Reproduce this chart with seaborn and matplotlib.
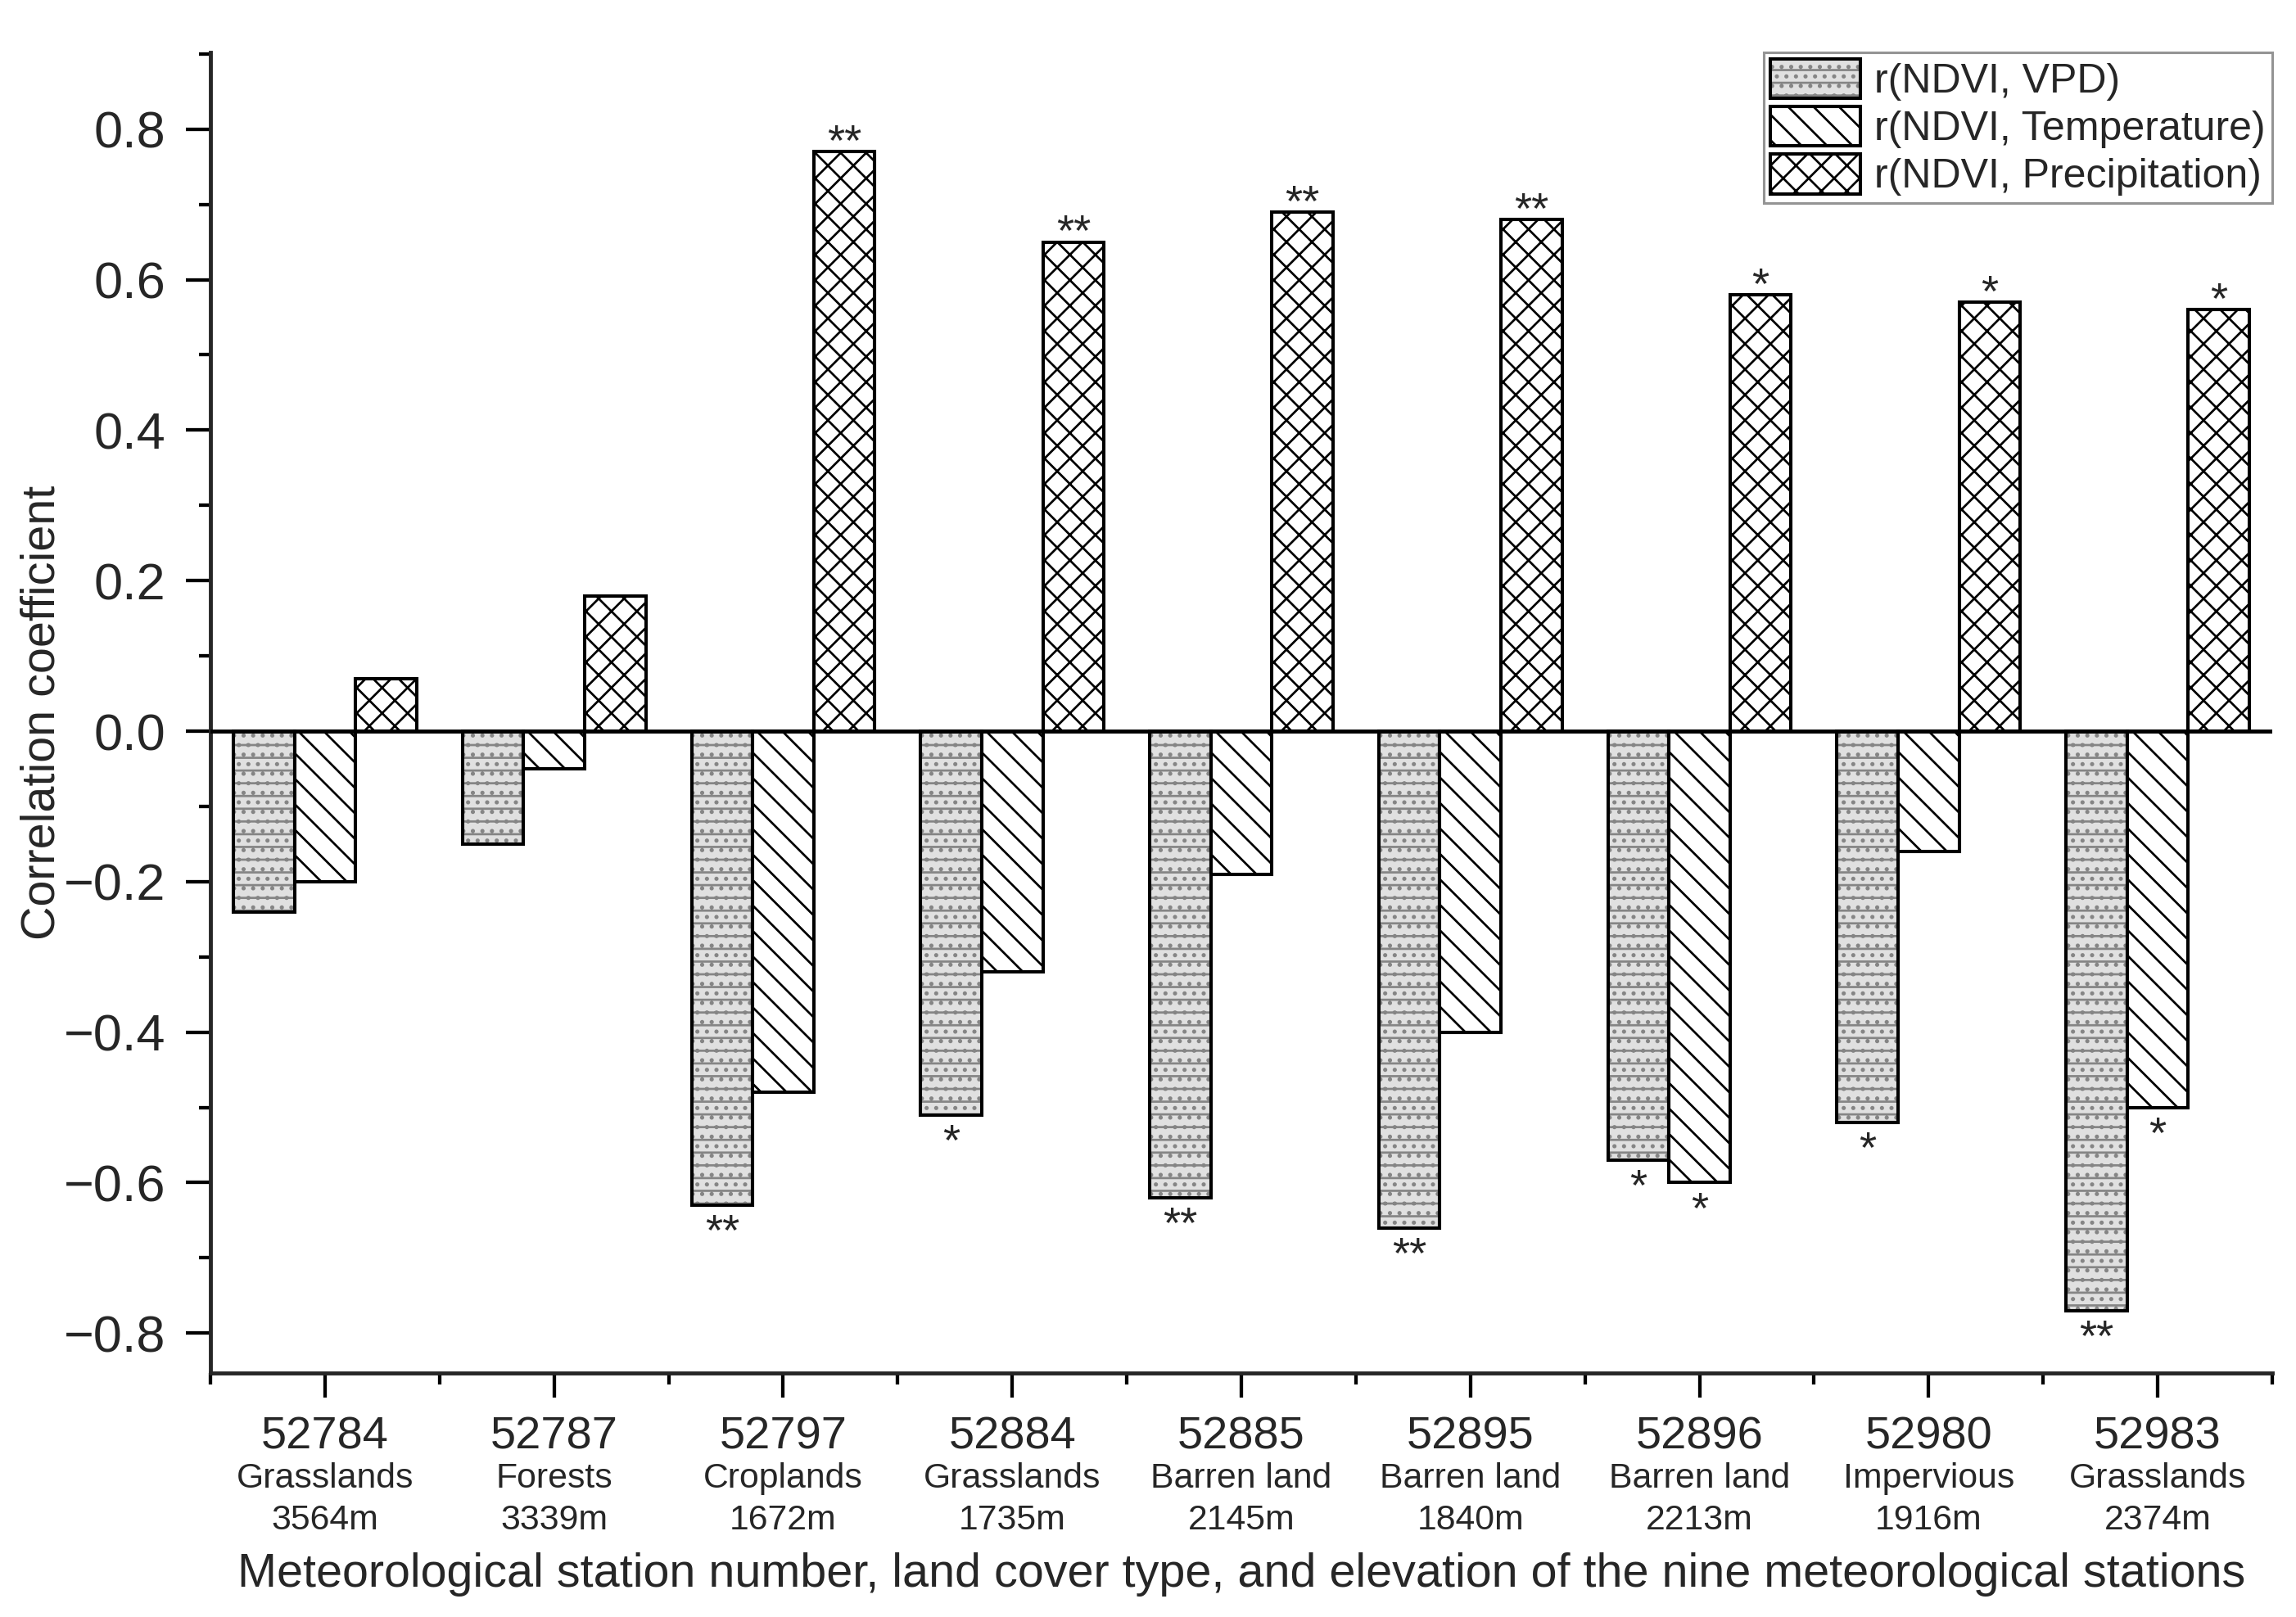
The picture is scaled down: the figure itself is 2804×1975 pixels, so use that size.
import numpy as np
import pandas as pd
import matplotlib
matplotlib.use("Agg")
import matplotlib.pyplot as plt
import seaborn as sns
from matplotlib.patches import Patch
from matplotlib.ticker import MultipleLocator, FuncFormatter, FixedLocator
from matplotlib.colors import to_rgba

# ---------------- data ----------------
stations = ["52784", "52787", "52797", "52884", "52885", "52895", "52896", "52980", "52983"]
land_cover = ["Grasslands", "Forests", "Croplands", "Grasslands", "Barren land",
              "Barren land", "Barren land", "Impervious", "Grasslands"]
elevation = ["3564m", "3339m", "1672m", "1735m", "2145m", "1840m", "2213m", "1916m", "2374m"]
series = ["r(NDVI, VPD)", "r(NDVI, Temperature)", "r(NDVI, Precipitation)"]
r_vpd = [-0.24, -0.15, -0.63, -0.51, -0.62, -0.66, -0.57, -0.52, -0.77]
r_temp = [-0.20, -0.05, -0.48, -0.32, -0.19, -0.40, -0.60, -0.16, -0.50]
r_prec = [0.07, 0.18, 0.77, 0.65, 0.69, 0.68, 0.58, 0.57, 0.56]
sig_vpd = ["", "", "**", "*", "**", "**", "*", "*", "**"]
sig_temp = ["", "", "", "", "", "", "*", "", "*"]
sig_prec = ["", "", "**", "**", "**", "**", "*", "*", "*"]
y_label = "Correlation coefficient"
x_label = ("Meteorological station number, land cover type, and elevation "
           "of the nine meteorological stations")

values = [r_vpd, r_temp, r_prec]
sigs = [sig_vpd, sig_temp, sig_prec]
df = pd.DataFrame({
    "station": np.tile(stations, 3),
    "series": np.repeat(series, len(stations)),
    "value": np.concatenate(values),
})

# ---------------- style ----------------
sns.set_theme(style="ticks")
plt.rcParams["font.family"] = ["Liberation Sans", "DejaVu Sans"]
plt.rcParams["hatch.linewidth"] = 0.7
plt.rcParams["axes.linewidth"] = 1.25

DPI = 280
fig = plt.figure(figsize=(2804 / DPI, 1975 / DPI), dpi=DPI)
fig.patch.set_facecolor("white")
ax = fig.add_axes([257 / 2804, 1 - 1677 / 1975, (2775 - 257) / 2804, (1677 - 64) / 1975])

sns.barplot(data=df, x="station", y="value", hue="series", order=stations,
            hue_order=series, palette=["white"] * 3, saturation=1, width=0.8,
            gap=0, errorbar=None, edgecolor="black", linewidth=1.0,
            legend=False, ax=ax, zorder=2)

hatches = ["---....", "\\\\\\", "xxx"]
faces = ["#e0e0e0", "white", "white"]
hcolors = ["#858585", "black", "black"]


def style_patch(p, k):
    p.set_facecolor(faces[k])
    p.set_edgecolor("black")
    p.set_hatch(hatches[k])
    p.set_linewidth(1.05)
    if hasattr(p, "set_hatchcolor"):
        p.set_hatchcolor(hcolors[k])
    else:
        p._hatch_color = to_rgba(hcolors[k])


for k, cont in enumerate(ax.containers):
    for j, p in enumerate(cont):
        style_patch(p, k)
        s = sigs[k][j]
        if not s:
            continue
        xc = p.get_x() + p.get_width() / 2
        v = values[k][j]
        if v >= 0:
            ax.annotate(s, xy=(xc, v), xytext=(0, -1.0), textcoords="offset points",
                        ha="center", va="baseline", fontsize=14, zorder=5)
        else:
            ax.annotate(s, xy=(xc, v), xytext=(0, -2.4), textcoords="offset points",
                        ha="center", va="top", fontsize=14, zorder=5)

ax.axhline(0, color="black", lw=1.25, zorder=3)

# axes
ax.set_xlim(-0.5, len(stations) - 0.5)
ax.set_ylim(-0.853, 0.902)
sns.despine(ax=ax)
ax.yaxis.set_major_locator(MultipleLocator(0.2))
ax.yaxis.set_minor_locator(MultipleLocator(0.1))


def fmt(v, pos):
    if abs(v) < 1e-9:
        return "0.0"
    return f"{v:.1f}".replace("-", "\u2212")


ax.yaxis.set_major_formatter(FuncFormatter(fmt))
ax.xaxis.set_major_locator(FixedLocator(range(len(stations))))
ax.set_xticklabels(stations)
ax.xaxis.set_minor_locator(FixedLocator(np.arange(-0.5, len(stations), 1.0)))

ax.tick_params(axis="both", which="major", direction="out", length=7.6, width=1.1,
               color="black")
ax.tick_params(axis="both", which="minor", direction="out", length=3.6, width=1.1,
               color="black")
ax.tick_params(axis="y", which="major", labelsize=16.2, pad=6.4)
ax.tick_params(axis="x", which="major", labelsize=14.4, pad=6.0)

for i, (lc, el) in enumerate(zip(land_cover, elevation)):
    ax.annotate(lc, xy=(i, 0), xycoords=("data", "axes fraction"), xytext=(0, -33.2),
                textcoords="offset points", ha="center", va="center", fontsize=11.0,
                annotation_clip=False)
    ax.annotate(el, xy=(i, 0), xycoords=("data", "axes fraction"), xytext=(0, -46.3),
                textcoords="offset points", ha="center", va="center", fontsize=11.0,
                annotation_clip=False)

ax.set_xlabel(x_label, fontsize=14.8)
ax.xaxis.set_label_coords(0.5, -0.1358)
ax.xaxis.label.set_va("top")
ax.set_ylabel(y_label, fontsize=14.8)
ax.yaxis.set_label_coords(-0.071, 0.5)

# legend
handles = []
for k in range(3):
    h = Patch(facecolor=faces[k], edgecolor="black", hatch=hatches[k], linewidth=1.05)
    if hasattr(h, "set_hatchcolor"):
        h.set_hatchcolor(hcolors[k])
    else:
        h._hatch_color = to_rgba(hcolors[k])
    handles.append(h)
leg = ax.legend(handles, series, loc="upper right", bbox_to_anchor=(1.0, 1.0),
                borderaxespad=0.0, fontsize=12.9, frameon=True, fancybox=False,
                edgecolor="#7a7a7a", handlelength=2.2, handleheight=1.1,
                handletextpad=0.34, labelspacing=0.14, borderpad=0.16)
leg.get_frame().set_linewidth(0.8)
leg.set_zorder(6)

fig.savefig("out.png", dpi=DPI, facecolor="white")
